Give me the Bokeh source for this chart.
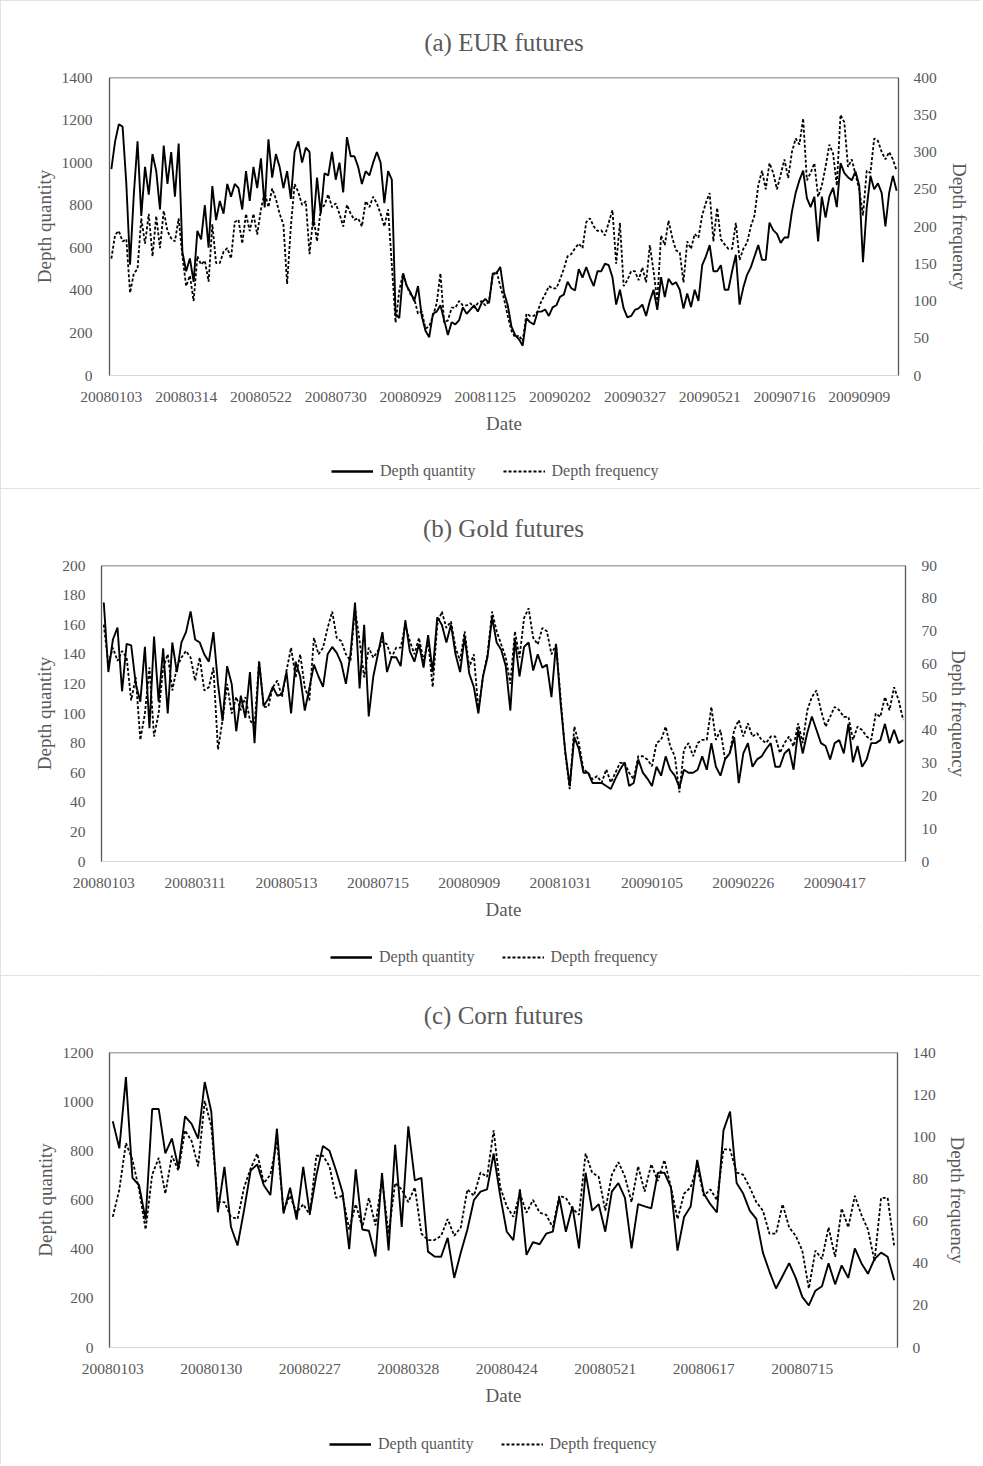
from bokeh.plotting import figure
from bokeh.models import Range1d, LinearAxis, FixedTicker, Legend, LegendItem, Span
from bokeh.layouts import column
from bokeh.embed import file_html
from bokeh.resources import INLINE

FONT = "Liberation Serif"
GREY = "#595959"

# ---------------- data ----------------
eur_tick_labels = ["20080103", "20080314", "20080522", "20080730", "20080929", "20081125",
                   "20090202", "20090327", "20090521", "20090716", "20090909"]
eur_quantity = [
    970, 1100, 1180, 1170, 900, 520, 850, 1100, 750, 980,
    850, 1040, 960, 780, 1080, 900, 1050, 840, 1090, 580,
    490, 550, 440, 680, 640, 800, 600, 890, 730, 820,
    760, 900, 840, 900, 880, 780, 960, 820, 980, 880,
    1020, 790, 1110, 930, 1040, 980, 880, 960, 830, 1050,
    1100, 1000, 1070, 1050, 700, 930, 760, 950, 940, 1050,
    920, 1000, 860, 1120, 1030, 1030, 980, 900, 960, 940,
    1000, 1050, 1000, 810, 960, 920, 290, 270, 480, 420,
    390, 350, 420, 280, 210, 180, 290, 300, 330, 260,
    190, 250, 240, 260, 320, 290, 310, 330, 300, 340,
    360, 340, 480, 480, 510, 390, 330, 230, 190, 170,
    140, 270, 250, 240, 300, 300, 310, 280, 320, 330,
    370, 380, 440, 410, 400, 500, 460, 510, 460, 420, 490,
    490, 525, 518, 462, 333, 403, 315, 273, 280, 308,
    315, 333, 280, 350, 403, 308, 462, 368, 455, 427,
    438, 403, 315, 385, 322, 403, 350, 518, 560, 613,
    490, 490, 518, 403, 403, 490, 567, 333, 413, 473,
    508, 560, 613, 543, 543, 718, 683, 665, 623, 648,
    648, 770, 858, 917, 963, 833, 791, 840, 630, 840,
    742, 840, 882, 791, 998, 952, 931, 917, 959, 893,
    532, 788, 938, 875, 903, 858, 700, 858, 938, 868,
]
eur_frequency = [
    157, 189, 194, 180, 183, 111, 137, 143, 211, 177,
    217, 160, 214, 171, 221, 194, 184, 180, 211, 160,
    120, 134, 100, 160, 149, 154, 126, 203, 151, 151,
    166, 171, 157, 206, 209, 177, 217, 194, 217, 189,
    223, 246, 226, 251, 237, 217, 203, 123, 200, 257,
    246, 229, 234, 163, 214, 180, 223, 229, 243, 226,
    231, 217, 200, 229, 217, 209, 211, 200, 234, 226,
    240, 231, 217, 200, 223, 149, 71, 114, 137, 120,
    109, 103, 83, 86, 63, 66, 80, 97, 137, 71,
    74, 91, 91, 100, 94, 94, 97, 91, 97, 100,
    94, 100, 134, 140, 120, 103, 80, 60, 51, 54,
    46, 83, 80, 80, 86, 100, 109, 120, 117, 117,
    129, 143, 160, 163, 171, 177, 171, 206, 211, 200, 194,
    195, 188, 205, 222, 150, 205, 120, 128, 140, 140,
    128, 145, 125, 175, 140, 100, 188, 175, 208, 185,
    168, 165, 125, 180, 170, 190, 185, 215, 232, 245,
    180, 225, 183, 176, 170, 170, 205, 155, 170, 178,
    200, 215, 255, 275, 250, 285, 272, 250, 270, 290,
    265, 300, 318, 310, 345, 262, 272, 285, 240, 255,
    280, 310, 298, 255, 350, 340, 280, 290, 270, 250,
    215, 275, 272, 318, 315, 300, 290, 300, 290, 275,
]

gold_tick_labels = ["20080103", "20080311", "20080513", "20080715", "20080909",
                    "20081031", "20090105", "20090226", "20090417"]
gold_quantity = [
    175, 128, 150, 158, 115, 147, 146, 120, 108, 145,
    90, 152, 108, 144, 100, 148, 128, 148, 155, 169,
    150, 148, 140, 135, 155, 120, 95, 132, 120, 88,
    112, 97, 128, 80, 135, 105, 110, 118, 112, 113,
    128, 100, 135, 125, 102, 117, 133, 125, 118, 140,
    145, 141, 134, 120, 140, 175, 117, 160, 98, 125,
    140, 155, 128, 138, 138, 132, 163, 142, 135, 147,
    131, 153, 128, 165, 160, 148, 160, 140, 128, 152,
    127, 118, 100, 125, 138, 165, 148, 143, 132, 102,
    150, 125, 145, 148, 129, 140, 131, 133, 111, 147,
    107, 75, 51, 84, 76, 60, 60, 53, 53, 53,
    51, 49, 56, 62, 67, 51, 53, 69, 60, 56,
    51, 64, 58, 71, 62, 58, 50, 62, 60, 60,
    62, 71, 62, 80, 64, 58, 69, 73, 84, 53,
    73, 80, 64, 69, 71, 76, 80, 64, 64, 73,
    76, 62, 89, 73, 87, 98, 89, 80, 78, 69,
    80, 82, 73, 93, 67, 78, 64, 69, 80, 80,
    82, 93, 80, 89, 80, 82,
]
gold_frequency = [
    72, 60, 65, 61, 64, 62, 49, 56, 37, 45,
    59, 38, 45, 59, 63, 52, 59, 62, 64, 62,
    55, 62, 52, 53, 59, 34, 43, 54, 45, 50,
    46, 50, 43, 41, 61, 47, 47, 53, 55, 50,
    58, 65, 56, 63, 53, 49, 68, 63, 65, 71,
    76, 68, 67, 63, 61, 77, 67, 56, 65, 62,
    64, 67, 66, 62, 65, 65, 72, 67, 63, 68,
    61, 67, 53, 72, 76, 71, 73, 65, 61, 70,
    59, 63, 46, 56, 63, 76, 70, 66, 62, 54,
    70, 62, 74, 77, 68, 66, 71, 70, 63, 66,
    50, 33, 22, 41, 36, 28, 27, 25, 26, 24,
    28, 24, 27, 30, 30, 27, 25, 32, 32, 31,
    29, 36, 37, 41, 35, 32, 21, 34, 36, 32,
    36, 37, 37, 47, 37, 40, 31, 33, 40, 43,
    38, 42, 38, 39, 37, 36, 38, 38, 33, 36,
    38, 35, 42, 36, 46, 50, 52, 46, 41, 44,
    47, 46, 44, 44, 37, 41, 40, 38, 37, 45,
    44, 50, 46, 53, 49, 43,
]

corn_tick_labels = ["20080103", "20080130", "20080227", "20080328",
                    "20080424", "20080521", "20080617", "20080715"]
corn_quantity = [
    920, 810, 1100, 690, 660, 520, 970, 970, 790, 850,
    730, 940, 910, 850, 1080, 960, 550, 735, 490, 415,
    560, 720, 745, 660, 620, 890, 545, 650, 520, 735,
    545, 700, 820, 800, 720, 630, 400, 725, 480, 475,
    370, 710, 395, 825, 490, 900, 680, 690, 390, 370,
    369, 446, 283, 386, 480, 600, 634, 643, 789, 617,
    471, 437, 643, 377, 429, 420, 463, 471, 609, 471,
    574, 403, 711, 557, 583, 471, 634, 669, 609, 403,
    583, 574, 566, 711, 711, 651, 394, 531, 574, 763,
    626, 583, 549, 883, 960, 669, 626, 557, 523, 386,
    309, 240, 291, 343, 283, 206, 171, 231, 249, 343,
    257, 334, 283, 403, 343, 300, 360, 386, 369, 274,
]
corn_frequency = [
    62, 75, 97, 89, 75, 56, 82, 90, 73, 91,
    84, 103, 98, 86, 117, 105, 69, 69, 62, 61,
    76, 85, 92, 78, 82, 98, 65, 72, 64, 68,
    63, 91, 91, 86, 71, 72, 56, 68, 57, 71,
    58, 80, 54, 78, 75, 69, 76, 54, 51, 51,
    53, 61, 53, 57, 75, 72, 83, 81, 103, 76,
    67, 62, 73, 64, 70, 64, 63, 57, 72, 71,
    66, 63, 92, 83, 81, 65, 82, 88, 81, 69,
    86, 74, 87, 79, 89, 76, 61, 73, 76, 86,
    72, 75, 70, 94, 94, 83, 82, 76, 69, 65,
    54, 54, 68, 57, 53, 46, 28, 46, 42, 57,
    43, 66, 57, 72, 63, 56, 41, 71, 71, 48,
]

SERIES_NAMES = ["Depth quantity", "Depth frequency"]


def style_axis(ax, label_standoff, axis_label_standoff, line_color, line_width):
    ax.major_tick_line_color = None
    ax.minor_tick_line_color = None
    ax.major_tick_out = 0
    ax.major_tick_in = 0
    ax.minor_tick_out = 0
    ax.minor_tick_in = 0
    ax.axis_line_color = line_color
    ax.axis_line_width = line_width
    ax.major_label_text_font = FONT
    ax.major_label_text_font_size = "15.5px"
    ax.major_label_text_color = GREY
    ax.major_label_standoff = label_standoff
    ax.axis_label_text_font = FONT
    ax.axis_label_text_font_size = "19px"
    ax.axis_label_text_font_style = "normal"
    ax.axis_label_text_color = GREY
    ax.axis_label_standoff = axis_label_standoff


def make_panel(title, qty, freq, tick_labels, step, lmax, lstep, rmax, rstep,
               height, bl, br, bt, bb, tstand, lstand, rstand, rlab,
               leg_height, leg_x, leg_y):
    n = len(qty)
    xs = list(range(n))
    p = figure(width=980, height=height,
               min_border_left=bl, min_border_right=br,
               min_border_top=bt, min_border_bottom=bb,
               x_range=Range1d(-0.5, n - 0.5), y_range=Range1d(0, lmax),
               output_backend="svg", toolbar_location=None, tools="")
    p.extra_y_ranges = {"freq": Range1d(0, rmax)}
    p.outline_line_color = None
    p.xgrid.visible = False
    p.ygrid.visible = False

    p.title.text = title
    p.title.align = "center"
    p.title.text_font = FONT
    p.title.text_font_size = "25px"
    p.title.text_font_style = "normal"
    p.title.text_color = GREY
    p.title.standoff = tstand

    xax = p.xaxis[0]
    style_axis(xax, 16, 8, "#d9d9d9", 1)
    xax.axis_label = "Date"
    xax.ticker = FixedTicker(ticks=[i * step for i in range(len(tick_labels))])
    xax.major_label_overrides = {i * step: lab for i, lab in enumerate(tick_labels)}

    yax = p.yaxis[0]
    style_axis(yax, lstand, 4, GREY, 1.3)
    yax.axis_label = "Depth quantity"
    yax.ticker = FixedTicker(ticks=list(range(0, lmax + 1, lstep)))

    rax = LinearAxis(y_range_name="freq")
    style_axis(rax, rstand, rlab, GREY, 1.3)
    rax.axis_label = "Depth frequency"
    rax.ticker = FixedTicker(ticks=list(range(0, rmax + 1, rstep)))
    p.add_layout(rax, "right")

    p.add_layout(Span(location=lmax, dimension="width", line_color=GREY, line_width=1.3))

    p.line(xs, qty, line_color="black", line_width=1.9)
    p.line(xs, freq, y_range_name="freq", line_color="black",
           line_width=1.8, line_dash="3 2")

    # legend strip below the chart (its own range keeps the key lines out of view)
    lg = figure(width=980, height=leg_height, min_border=0,
                x_range=Range1d(-2, -1), y_range=Range1d(-2, -1),
                x_axis_type=None, y_axis_type=None,
                output_backend="svg", toolbar_location=None, tools="")
    lg.outline_line_color = None
    lg.xgrid.visible = False
    lg.ygrid.visible = False
    k1 = lg.line(xs, qty, line_color="black", line_width=2.4)
    k2 = lg.line(xs, freq, line_color="black", line_width=2.2, line_dash="3 2")
    legend = Legend(items=[LegendItem(label=SERIES_NAMES[0], renderers=[k1]),
                           LegendItem(label=SERIES_NAMES[1], renderers=[k2])],
                    orientation="horizontal", location=(leg_x, leg_y),
                    border_line_color=None, background_fill_alpha=0,
                    padding=0, margin=0, spacing=27, label_standoff=7,
                    glyph_width=42, glyph_height=20, label_height=20,
                    label_text_font=FONT, label_text_font_size="16px",
                    label_text_color=GREY)
    lg.add_layout(legend, "center")
    return column(p, lg, spacing=0,
                  styles={"outline": "1px solid #d9d9d9", "outline-offset": "-1px"})


pa = make_panel("(a) EUR futures", eur_quantity, eur_frequency, eur_tick_labels, 20,
                1400, 200, 400, 50, 441, 109, 82, 77, 66, 44, 17, 15, 9,
                47, 222, 7)
pb = make_panel("(b) Gold futures", gold_quantity, gold_frequency, gold_tick_labels, 20,
                200, 20, 90, 10, 439, 101, 75, 76, 66, 48, 16, 16, 8,
                48, 229, 8)
pc = make_panel("(c) Corn futures", corn_quantity, corn_frequency, corn_tick_labels, 15,
                1200, 200, 140, 20, 438, 109, 83, 76, 66, 48, 16, 15, 8,
                51, 220, 10)

layout = column(pa, pb, pc, spacing=0)
open("out.html", "w").write(file_html(layout, INLINE))
